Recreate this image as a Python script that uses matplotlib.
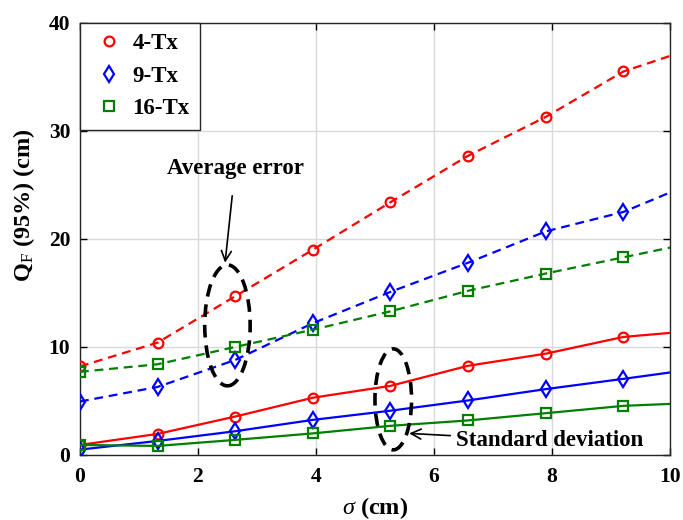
import matplotlib
matplotlib.use("Agg")
import matplotlib.pyplot as plt
from matplotlib.patches import Ellipse
from matplotlib.lines import Line2D

sigma = [0, 1.316, 2.632, 3.947, 5.263, 6.579, 7.895, 9.211, 10.526]

avg_4tx = [8.2, 10.4, 14.7, 19.0, 23.4, 27.7, 31.3, 35.5, 37.9]
avg_9tx = [4.95, 6.3, 8.8, 12.2, 15.1, 17.8, 20.7, 22.5, 25.5]
avg_16tx = [7.7, 8.4, 10.0, 11.6, 13.3, 15.2, 16.8, 18.3, 19.8]

std_4tx = [0.93, 1.95, 3.56, 5.3, 6.4, 8.26, 9.38, 10.93, 11.55]
std_9tx = [0.5, 1.3, 2.2, 3.25, 4.1, 5.05, 6.1, 7.05, 8.03]
std_16tx = [0.93, 0.84, 1.4, 2.0, 2.7, 3.2, 3.87, 4.55, 4.85]

labels = ["4-Tx", "9-Tx", "16-Tx"]
colors = ["#ff0000", "#0000ff", "#007f00"]
markers = ["o", "d", "s"]

plt.rcParams['font.family'] = ['Liberation Serif', 'DejaVu Serif']
plt.rcParams['mathtext.fontset'] = 'custom'
plt.rcParams['mathtext.rm'] = 'Liberation Serif'
plt.rcParams['mathtext.it'] = 'Liberation Serif:italic'
plt.rcParams['mathtext.bf'] = 'Liberation Serif:bold'

fig = plt.figure(figsize=(6.83, 5.2), dpi=100)
ax = fig.add_axes([0.117, 0.125, 0.864, 0.831])

avgs = [avg_4tx, avg_9tx, avg_16tx]
stds = [std_4tx, std_9tx, std_16tx]
for a, s, c, m in zip(avgs, stds, colors, markers):
    ms = 8 if m == "d" else 7
    ax.plot(sigma, a, color=c, lw=1.6, dashes=(4, 2.6), marker=m, ms=ms,
            mfc='none', mec=c, mew=1.6, zorder=3)
    ax.plot(sigma, s, color=c, lw=1.6, ls='-', marker=m, ms=ms,
            mfc='none', mec=c, mew=1.6, zorder=3)

ax.set_xlim(0, 10)
ax.set_ylim(0, 40)
ax.set_xticks([0, 2, 4, 6, 8, 10])
ax.set_yticks([0, 10, 20, 30, 40])
ax.grid(True, color='#d9d9d9', lw=1.0)
ax.set_axisbelow(True)
ax.tick_params(direction='in', top=True, right=True, length=5, width=1,
               labelsize=15.5)
ax.tick_params(axis='x', pad=9)
ax.tick_params(axis='y', pad=7)
for lab in ax.get_xticklabels() + ax.get_yticklabels():
    lab.set_fontweight('bold')
for sp in ax.spines.values():
    sp.set_linewidth(1.0)
    sp.set_color('#262626')

ax.set_xlabel(r'$\sigma$ (cm)', fontsize=17.5, fontweight='bold')
ax.xaxis.set_label_coords(0.5, -0.122)
ax.set_ylabel(r'Q$_\mathrm{F}$ (95%) (cm)', fontsize=17.5, fontweight='bold')
ax.yaxis.set_label_coords(-0.095, 0.579)
ax.yaxis.label.set_va('center')
ax.xaxis.label.set_va('center')

e1 = Ellipse((2.5, 12.0), 0.77, 11.2, fill=False, ec='black', lw=2.6,
             ls=(0, (3.5, 2.2)), zorder=4)
e2 = Ellipse((5.31, 5.15), 0.62, 9.35, fill=False, ec='black', lw=2.6,
             ls=(0, (3.5, 2.2)), zorder=4)
ax.add_patch(e1)
ax.add_patch(e2)

ax.annotate('Average error', xy=(2.46, 17.8), xytext=(2.63, 26.5),
            ha='center', va='center', fontsize=16.5, fontweight='bold',
            arrowprops=dict(arrowstyle='->', color='black', lw=1.2,
                            shrinkA=10, shrinkB=0, mutation_scale=18))
ax.annotate('Standard deviation', xy=(5.58, 2.0), xytext=(6.37, 1.3),
            ha='left', va='center', fontsize=16.5, fontweight='bold',
            arrowprops=dict(arrowstyle='->', color='black', lw=1.2,
                            shrinkA=2, shrinkB=0, mutation_scale=18))

handles = [Line2D([], [], ls='none', marker=m, mfc='none', mec=c, mew=1.6,
                  ms=(8 if m == 'd' else 7)) for c, m in zip(colors, markers)]
leg = ax.legend(handles, labels, loc='upper left',
                prop={'weight': 'bold', 'size': 16.5}, frameon=True,
                fancybox=False, edgecolor='#262626', framealpha=1,
                borderaxespad=0, handletextpad=0.25, labelspacing=0.5,
                borderpad=0.45, handlelength=1.6)
leg.get_frame().set_linewidth(1.0)

fig.savefig('out.png', dpi=100)
